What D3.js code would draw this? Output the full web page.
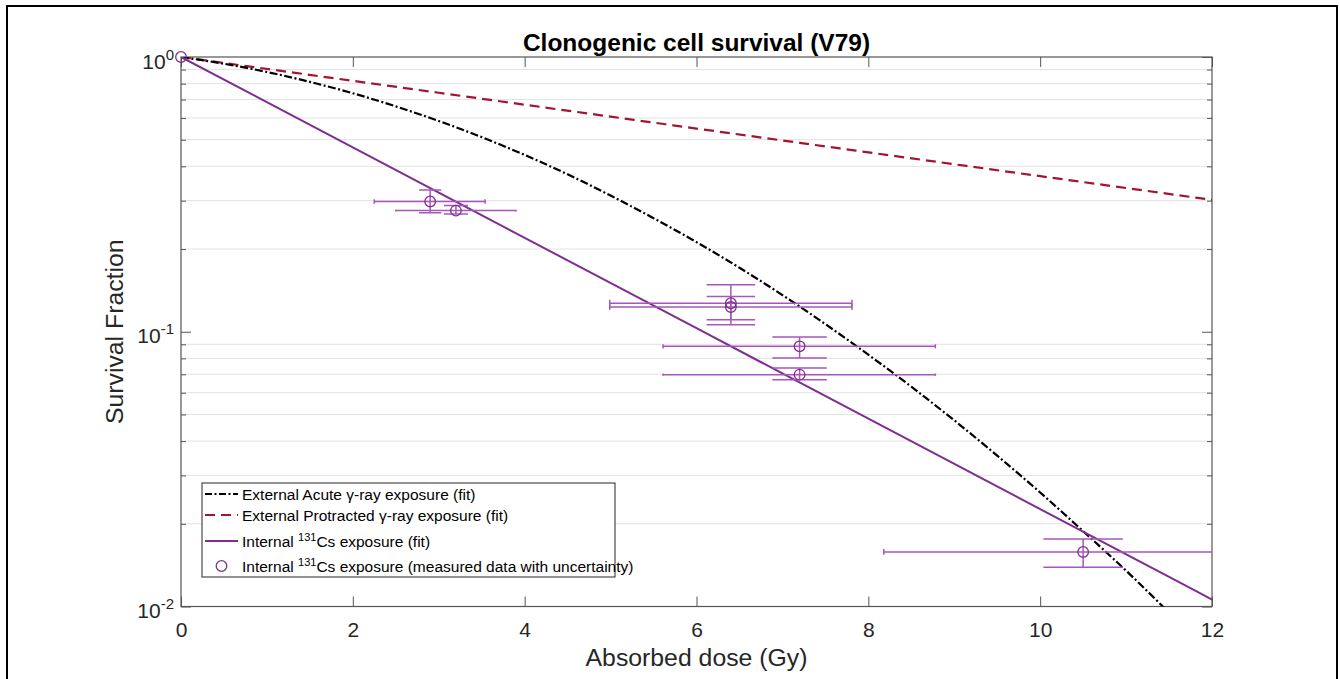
<!DOCTYPE html>
<html><head><meta charset="utf-8">
<script src="https://cdn.jsdelivr.net/npm/d3@7"></script>
<style>body{margin:0;background:#fff}svg{display:block}text{font-family:"Liberation Sans",Arial,Helvetica,sans-serif}</style>
</head><body>
<script>
// ---- data ----
const chartTitle = "Clonogenic cell survival (V79)";
const xLabel = "Absorbed dose (Gy)";
const yLabel = "Survival Fraction";
const xTickValues = [0, 2, 4, 6, 8, 10, 12];
const yMajorTicks = [0.01, 0.1, 1];
const yTickExponents = ["-2", "-1", "0"];

// External acute gamma-ray exposure fit
const acuteDose = [0, 0.5, 1, 1.5, 2, 2.5, 3, 3.5, 4, 4.5, 5, 5.5, 6, 6.5, 7, 7.5, 8, 8.5, 9, 9.5, 10, 10.5, 11, 11.5];
const acuteSurv = [1, 0.945, 0.882, 0.812, 0.738, 0.661, 0.585, 0.511, 0.440, 0.374, 0.313, 0.259, 0.212, 0.171, 0.136, 0.1066, 0.0825, 0.0631, 0.0476, 0.0354, 0.0260, 0.0188, 0.0135, 0.0095];
// External protracted gamma-ray exposure fit
const protractedDose = [0, 3, 6, 9, 12];
const protractedSurv = [1, 0.741, 0.549, 0.407, 0.302];
// Internal 131Cs exposure fit
const internalFitDose = [0, 6, 12];
const internalFitSurv = [1, 0.103, 0.0106];
// Internal 131Cs measured data with uncertainty
const measDose     = [0, 2.9, 3.2, 6.4, 6.4, 7.2, 7.2, 10.5];
const measSurv     = [1.0, 0.298, 0.276, 0.127, 0.123, 0.0885, 0.0698, 0.0158];
const measDoseLow  = [0, 2.25, 2.5, 4.99, 4.99, 5.61, 5.61, 8.18];
const measDoseHigh = [0, 3.54, 3.9, 7.81, 7.81, 8.78, 8.78, 12.8];
const measSurvLow  = [1, 0.271, 0.268, 0.1106, 0.106, 0.0802, 0.0669, 0.0139];
const measSurvHigh = [1, 0.328, 0.288, 0.1482, 0.1344, 0.0956, 0.0738, 0.0176];

const legendLabels = [
  "External Acute γ-ray exposure (fit)",
  "External Protracted γ-ray exposure (fit)",
  "Internal ^131^Cs exposure (fit)",
  "Internal ^131^Cs exposure (measured data with uncertainty)"
];

// ---- drawing ----
const W = 1340, H = 679;
const L = 181, R = 1212, T = 57, B = 606.5;
const purple = "#7E2F8E", purpleLight = "#A956BC", red = "#A2142F", axisCol = "#555", textCol = "#262626";

const svg = d3.select("body").append("svg").attr("width", W).attr("height", H);
svg.append("rect").attr("width", W).attr("height", H).attr("fill", "#fff");
svg.append("rect").attr("x", 7).attr("y", 6).attr("width", 1330).attr("height", 700)
  .attr("fill", "none").attr("stroke", "#000").attr("stroke-width", 2);

const x = d3.scaleLinear().domain([0, 12]).range([L, R]);
const y = d3.scaleLog().domain([0.01, 1]).range([B, T]);

svg.append("defs").append("clipPath").attr("id", "plotclip")
  .append("rect").attr("x", L).attr("y", T).attr("width", R - L).attr("height", B - T);

// minor grid
const minorVals = [];
[0.01, 0.1].forEach(d => { for (let k = 2; k <= 9; k++) minorVals.push(+(k * d).toPrecision(3)); });
svg.append("g").selectAll("line").data(minorVals).join("line")
  .attr("x1", L).attr("x2", R).attr("y1", d => y(d)).attr("y2", d => y(d))
  .attr("stroke", "#e3e3e3").attr("stroke-width", 1);

// axes
const gx = svg.append("g").attr("transform", `translate(0,${B})`)
  .call(d3.axisBottom(x).tickValues(xTickValues).tickSizeInner(-10).tickSizeOuter(0).tickPadding(16).tickFormat(d3.format("d")));
svg.append("g").attr("transform", `translate(0,${T})`)
  .call(d3.axisTop(x).tickValues(xTickValues).tickSizeInner(-10).tickSizeOuter(0).tickFormat(""));
svg.append("g").attr("transform", `translate(${L},0)`)
  .call(d3.axisLeft(y).tickValues(minorVals).tickSizeInner(-5).tickSizeOuter(0).tickFormat(""));
svg.append("g").attr("transform", `translate(${L},0)`)
  .call(d3.axisLeft(y).tickValues(yMajorTicks).tickSizeInner(-10).tickSizeOuter(0).tickFormat(""));
svg.append("g").attr("transform", `translate(${R},0)`)
  .call(d3.axisRight(y).tickValues(minorVals).tickSizeInner(-5).tickSizeOuter(0).tickFormat(""));
svg.append("g").attr("transform", `translate(${R},0)`)
  .call(d3.axisRight(y).tickValues(yMajorTicks).tickSizeInner(-10).tickSizeOuter(0).tickFormat(""));
svg.selectAll(".domain").remove();
svg.selectAll(".tick line").attr("stroke", axisCol);
gx.selectAll("text").attr("font-size", 21).attr("fill", textCol).attr("font-family", "Liberation Sans, Arial, sans-serif");

// y tick labels with superscripts
const yl = svg.append("g").selectAll("text").data(yMajorTicks).join("text")
  .attr("x", 174).attr("y", d => y(d) + 11.5).attr("text-anchor", "end")
  .attr("fill", textCol).attr("font-size", 21);
yl.append("tspan").text("10");
yl.append("tspan").attr("font-size", 15).attr("dy", -9).text((d, i) => yTickExponents[i]);

// box
svg.append("rect").attr("x", L).attr("y", T).attr("width", R - L).attr("height", B - T)
  .attr("fill", "none").attr("stroke", axisCol).attr("stroke-width", 1.2);

// fit lines
const line = d3.line().x(d => x(d[0])).y(d => y(d[1])).curve(d3.curveMonotoneX);
const plot = svg.append("g").attr("clip-path", "url(#plotclip)");
plot.append("path").datum(protractedDose.map((d, i) => [d, protractedSurv[i]]))
  .attr("d", line).attr("fill", "none").attr("stroke", red).attr("stroke-width", 2.2)
  .attr("stroke-dasharray", "10,6");
plot.append("path").datum(acuteDose.map((d, i) => [d, acuteSurv[i]]))
  .attr("d", line).attr("fill", "none").attr("stroke", "#000").attr("stroke-width", 2.2)
  .attr("stroke-dasharray", "8,2.5,2,2.5");
plot.append("path").datum(internalFitDose.map((d, i) => [d, internalFitSurv[i]]))
  .attr("d", line).attr("fill", "none").attr("stroke", purple).attr("stroke-width", 2);

// error bars
const meas = measDose.map((d, i) => ({ d, s: measSurv[i], dl: measDoseLow[i], dh: measDoseHigh[i], sl: measSurvLow[i], sh: measSurvHigh[i] }))
  .filter(p => p.dh > p.dl);
const eb = plot.append("g").attr("stroke", purpleLight).attr("stroke-width", 1.5).attr("fill", "none");
meas.forEach(p => {
  const cx = x(p.d), cy = y(p.s);
  const hx = (x(p.dh) - x(p.dl)) / 2;
  const hy = (y(p.sl) - y(p.sh)) / 2;
  const capW = 0.2 * hx, capH = 0.2 * hy;
  eb.append("line").attr("x1", x(p.dl)).attr("x2", x(p.dh)).attr("y1", cy).attr("y2", cy);
  eb.append("line").attr("x1", x(p.dl)).attr("x2", x(p.dl)).attr("y1", cy - capH).attr("y2", cy + capH);
  eb.append("line").attr("x1", x(p.dh)).attr("x2", x(p.dh)).attr("y1", cy - capH).attr("y2", cy + capH);
  eb.append("line").attr("x1", cx).attr("x2", cx).attr("y1", y(p.sh)).attr("y2", y(p.sl));
  eb.append("line").attr("x1", cx - capW).attr("x2", cx + capW).attr("y1", y(p.sh)).attr("y2", y(p.sh));
  eb.append("line").attr("x1", cx - capW).attr("x2", cx + capW).attr("y1", y(p.sl)).attr("y2", y(p.sl));
});

// markers
svg.append("g").selectAll("circle").data(measDose).join("circle")
  .attr("cx", d => x(d)).attr("cy", (d, i) => y(measSurv[i])).attr("r", 5.3)
  .attr("fill", "none").attr("stroke", purple).attr("stroke-width", 1.3);

// titles
svg.append("text").attr("x", (L + R) / 2).attr("y", 51).attr("text-anchor", "middle")
  .attr("font-size", 24.5).attr("font-weight", "bold").attr("fill", "#000").text(chartTitle);
svg.append("text").attr("x", (L + R) / 2).attr("y", 666).attr("text-anchor", "middle")
  .attr("font-size", 24.8).attr("fill", textCol).text(xLabel);
svg.append("text").attr("transform", `translate(123,${(T + B) / 2}) rotate(-90)`).attr("text-anchor", "middle")
  .attr("font-size", 24.8).attr("fill", textCol).text(yLabel);

// legend
const lg = svg.append("g");
lg.append("rect").attr("x", 202).attr("y", 483).attr("width", 413).attr("height", 94)
  .attr("fill", "#fff").attr("stroke", textCol).attr("stroke-width", 1);
const rowY = [494, 515, 541, 566];
const styles = [
  { stroke: "#000", dash: "7,2.5,2,2.5", w: 2 },
  { stroke: red, dash: "10,6", w: 2.2 },
  { stroke: purple, dash: null, w: 2 },
  null
];
styles.forEach((st, i) => {
  if (st) {
    lg.append("line").attr("x1", 205).attr("x2", 238).attr("y1", rowY[i]).attr("y2", rowY[i])
      .attr("stroke", st.stroke).attr("stroke-width", st.w).attr("stroke-dasharray", st.dash);
  } else {
    lg.append("circle").attr("cx", 221.5).attr("cy", rowY[i]).attr("r", 5.3)
      .attr("fill", "none").attr("stroke", purple).attr("stroke-width", 1.3);
  }
  const t = lg.append("text").attr("x", 242).attr("y", rowY[i] + 5.5).attr("font-size", 15.5).attr("fill", "#000");
  const parts = legendLabels[i].split("^");
  parts.forEach((p, k) => {
    if (k % 2 === 1) t.append("tspan").attr("font-size", 11).attr("dy", -6).text(p);
    else if (k > 0) t.append("tspan").attr("dy", 6).text(p);
    else t.append("tspan").text(p);
  });
});
</script>
</body></html>
